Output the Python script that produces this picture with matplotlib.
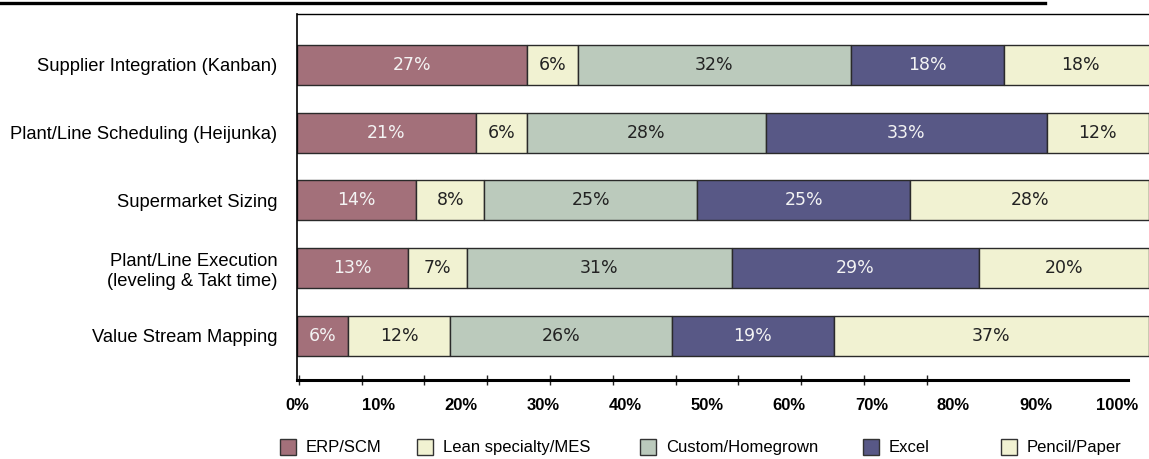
import matplotlib
matplotlib.use("Agg")
import matplotlib.pyplot as plt
from matplotlib.lines import Line2D
from matplotlib.patches import Patch
import numpy as np

# data
categories = [
    "Supplier Integration (Kanban)",
    "Plant/Line Scheduling (Heijunka)",
    "Supermarket Sizing",
    "Plant/Line Execution\n(leveling & Takt time)",
    "Value Stream Mapping",
]
series_names = ["ERP/SCM", "Lean specialty/MES", "Custom/Homegrown", "Excel", "Pencil/Paper"]
erp = [27, 21, 14, 13, 6]
lean = [6, 6, 8, 7, 12]
custom = [32, 28, 25, 31, 26]
excel = [18, 33, 25, 29, 19]
pencil = [18, 12, 28, 20, 37]
tick_values = [0, 10, 20, 30, 40, 50, 60, 70, 80, 90, 100]

colors = ["#a3707a", "#f1f2d2", "#bbcabc", "#585886", "#f1f2d2"]
text_colors = ["#f4f4f4", "#222222", "#222222", "#f4f4f4", "#222222"]

W, H = 1149, 459
fig = plt.figure(figsize=(W / 100, H / 100), dpi=100)


def fx(px):
    return px / W


def fy(px):
    return 1 - px / H


# bar area (runs off the right edge, as in the original)
ax_right = 1170
ax = fig.add_axes([fx(297), fy(380), fx(ax_right - 297), (380 - 14) / H])
y = np.arange(len(categories))
left = np.zeros(len(categories))
for vals, name, c, tc in zip([erp, lean, custom, excel, pencil], series_names, colors, text_colors):
    vals = np.array(vals, dtype=float)
    ax.barh(y, vals, left=left, height=0.59, color=c, edgecolor="#2a2a2a", linewidth=1.0)
    for yi, l, v in zip(y, left, vals):
        ax.text(l + v / 2, yi, f"{int(v)}%", ha="center", va="center",
                color=tc, fontsize=12.5, family="DejaVu Sans")
    left += vals

ax.set_xlim(0, (ax_right - 297) / 8.52)
ax.set_ylim(4.65, -0.75)
ax.set_yticks(y)
ax.set_yticklabels(categories, family="Liberation Sans", fontsize=13.2)
ax.tick_params(axis="y", length=0, pad=14)
ax.set_xticks([])
ax.spines["right"].set_visible(False)
ax.spines["bottom"].set_visible(False)
ax.spines["top"].set_linewidth(1.0)
ax.spines["left"].set_linewidth(1.2)

# tick marks axis (spacing differs from the labels in the original)
ax2 = fig.add_axes([fx(297), fy(380), fx(1128 - 297), 0.0001])
ax2.set_xlim(-0.3, (1128 - 297) / 6.28 - 0.3)
ax2.set_xticks(tick_values)
ax2.set_xticklabels([])
ax2.set_yticks([])
ax2.tick_params(axis="x", direction="inout", length=7, width=1.0, color="#222222")
for s in ["top", "left", "right"]:
    ax2.spines[s].set_visible(False)
ax2.spines["bottom"].set_linewidth(2.2)
ax2.patch.set_visible(False)

# tick labels axis
ax3 = fig.add_axes([fx(297), fy(380), fx(1128 - 297), 0.0001])
ax3.set_xlim((297 - 295.5) / 8.22, (1128 - 295.5) / 8.22)
ax3.set_xticks(tick_values)
ax3.set_xticklabels([f"{v}%" for v in tick_values], fontsize=12, fontweight="bold",
                    family="Liberation Sans")
ax3.set_yticks([])
ax3.tick_params(axis="x", length=0, pad=13)
for s in ax3.spines.values():
    s.set_visible(False)
ax3.patch.set_visible(False)

# legend, one entry per slot as in the original layout
legend_x = [280, 417, 640, 863, 1001]
for name, c, lx in zip(series_names, colors, legend_x):
    fig.legend(handles=[Patch(facecolor=c, edgecolor="#333333", linewidth=1.0)], labels=[name],
               loc="center left", bbox_to_anchor=(fx(lx), fy(447)), frameon=False,
               borderpad=0, borderaxespad=0, handlelength=0.95, handleheight=1.1,
               handletextpad=0.6, prop={"family": "Liberation Sans", "size": 12})

# thick rule at the top
fig.add_artist(Line2D([0, fx(1045)], [fy(3), fy(3)], color="black", linewidth=2.4))

fig.savefig("out.png", dpi=100)
